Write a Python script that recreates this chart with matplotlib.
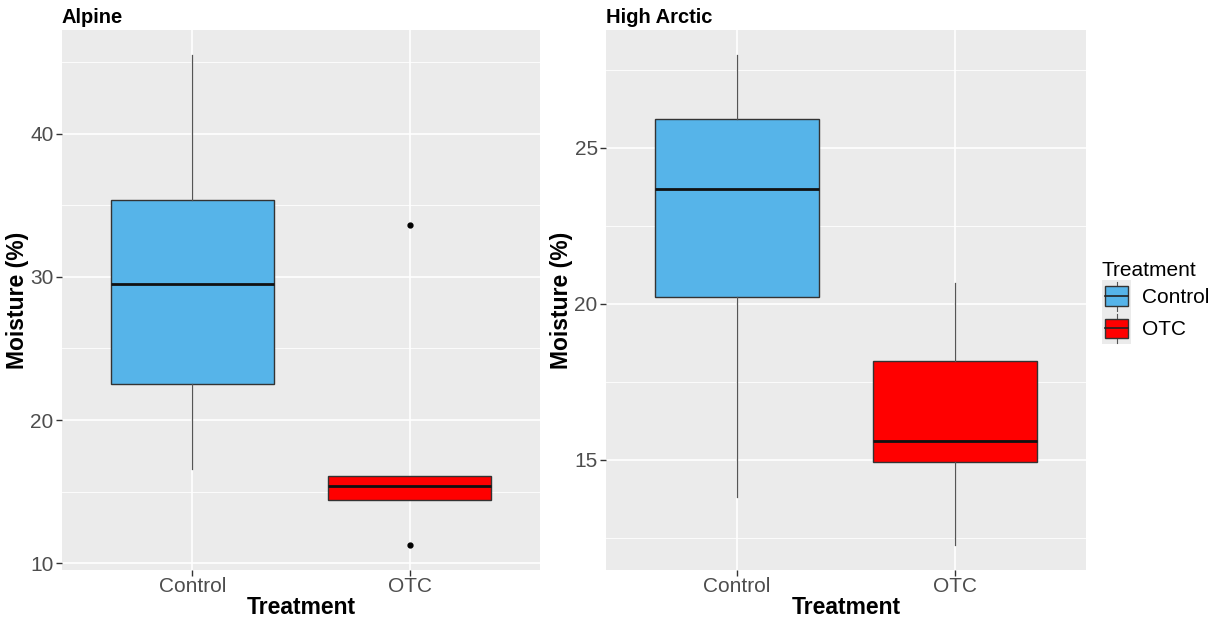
import matplotlib
matplotlib.use("Agg")
import matplotlib.pyplot as plt
from matplotlib.legend_handler import HandlerBase
from matplotlib.patches import Patch, Rectangle
from matplotlib.lines import Line2D

plt.rcParams["font.family"] = ["Liberation Sans", "DejaVu Sans"]

# DATA
# -----------------------------------------------
treatments = ["Control", "OTC"]
colors = ["#56B4E9", "#FF0000"]

panels = ["Alpine", "High Arctic"]

# box stats: [Control, OTC]
alpine_whislo = [16.6, 14.39]
alpine_q1 = [22.49, 14.39]
alpine_med = [29.48, 15.38]
alpine_q3 = [35.39, 16.1]
alpine_whishi = [45.52, 16.1]
alpine_fliers = [[], [33.6, 11.25]]

arctic_whislo = [13.8, 12.25]
arctic_q1 = [20.22, 14.91]
arctic_med = [23.68, 15.61]
arctic_q3 = [25.93, 18.15]
arctic_whishi = [27.98, 20.66]
arctic_fliers = [[], []]

alpine_ticks = [10, 20, 30, 40]
alpine_minor = [15, 25, 35, 45]
arctic_ticks = [15, 20, 25]
arctic_minor = [12.5, 17.5, 22.5, 27.5]


def make_stats(whislo, q1, med, q3, whishi, fliers):
    return [
        dict(whislo=a, q1=b, med=c, q3=d, whishi=e, fliers=f, label=lab)
        for a, b, c, d, e, f, lab in zip(whislo, q1, med, q3, whishi, fliers, treatments)
    ]


class BoxKeyHandler(HandlerBase):
    def create_artists(self, legend, orig_handle, xdescent, ydescent, width, height, fontsize, trans):
        x0, y0 = -xdescent, -ydescent
        bg = Rectangle((x0, y0), width, height, facecolor="#EBEBEB",
                       edgecolor="none", transform=trans)
        bw = width * 0.8
        bh = height * 0.6
        bx = x0 + (width - bw) / 2
        by = y0 + (height - bh) / 2
        cx = x0 + width / 2
        w1 = Line2D([cx, cx], [y0 + 0.05 * height, by], color="#555555", lw=0.8, transform=trans)
        w2 = Line2D([cx, cx], [by + bh, y0 + 0.95 * height], color="#555555", lw=0.8, transform=trans)
        box = Rectangle((bx, by), bw, bh, facecolor=orig_handle.get_facecolor(),
                        edgecolor="#333333", lw=1, transform=trans)
        med = Line2D([bx, bx + bw], [by + bh / 2, by + bh / 2], color="#222222", lw=1.2,
                     transform=trans)
        return [bg, w1, w2, box, med]


# PLOTTING
# -----------------------------------------------

def draw_panel(ax, title, stats, ticks, minor):
    ax.set_facecolor("#EBEBEB")
    for s in ax.spines.values():
        s.set_visible(False)
    ax.set_axisbelow(True)

    bp = ax.bxp(stats, positions=[1, 2], widths=0.75, patch_artist=True, showcaps=False,
                boxprops=dict(edgecolor="#333333", linewidth=1.0),
                medianprops=dict(color="#111111", linewidth=2.0),
                whiskerprops=dict(color="#555555", linewidth=0.9),
                flierprops=dict(marker="o", markersize=3.5, markerfacecolor="black",
                                markeredgecolor="black"))
    for patch, c in zip(bp["boxes"], colors):
        patch.set_facecolor(c)

    lo = min(s["whislo"] for s in stats)
    hi = max(s["whishi"] for s in stats)
    for s in stats:
        if s["fliers"]:
            lo = min(lo, min(s["fliers"]))
            hi = max(hi, max(s["fliers"]))
    pad = (hi - lo) * 0.05
    ax.set_ylim(lo - pad, hi + pad)
    ax.set_xlim(0.4, 2.6)

    ax.set_yticks(ticks)
    ax.set_yticks(minor, minor=True)
    ax.set_xticks([1, 2])
    ax.set_xticklabels(treatments)
    ax.grid(which="major", color="white", linewidth=1.2)
    ax.grid(which="minor", axis="y", color="white", linewidth=0.6)
    ax.tick_params(which="major", color="#333333", length=4, width=1,
                   labelcolor="#4D4D4D", labelsize=15)
    ax.tick_params(axis="x", pad=1)
    ax.tick_params(axis="y", pad=2)
    ax.tick_params(which="minor", length=0)

    ax.set_title(title, loc="left", fontweight="bold", fontsize=14.5, pad=5)
    ax.set_xlabel("Treatment", fontweight="bold", fontsize=16.5, labelpad=0)
    ax.set_ylabel("Moisture (%)", fontweight="bold", fontsize=16.5, labelpad=1)


def main():
    fig = plt.figure(figsize=(12.12, 6.2), dpi=100)
    W, H = 1212, 620
    ax1 = fig.add_axes([62 / W, 50 / H, 478 / W, 540 / H])
    ax2 = fig.add_axes([606 / W, 50 / H, 480 / W, 540 / H])

    draw_panel(ax1, panels[0],
               make_stats(alpine_whislo, alpine_q1, alpine_med, alpine_q3, alpine_whishi, alpine_fliers),
               alpine_ticks, alpine_minor)
    draw_panel(ax2, panels[1],
               make_stats(arctic_whislo, arctic_q1, arctic_med, arctic_q3, arctic_whishi, arctic_fliers),
               arctic_ticks, arctic_minor)

    handles = [Patch(facecolor=c) for c in colors]
    fig.legend(handles, treatments, title="Treatment", loc="upper left",
               bbox_to_anchor=(1102 / W, (H - 261) / H), frameon=False,
               fontsize=15, title_fontsize=15, handlelength=1.4, handleheight=2.0,
               labelspacing=0.0, handletextpad=0.5, borderpad=0, borderaxespad=0,
               alignment="left",
               handler_map={Patch: BoxKeyHandler()})

    fig.savefig("out.png", dpi=100)


if __name__ == "__main__":
    main()
